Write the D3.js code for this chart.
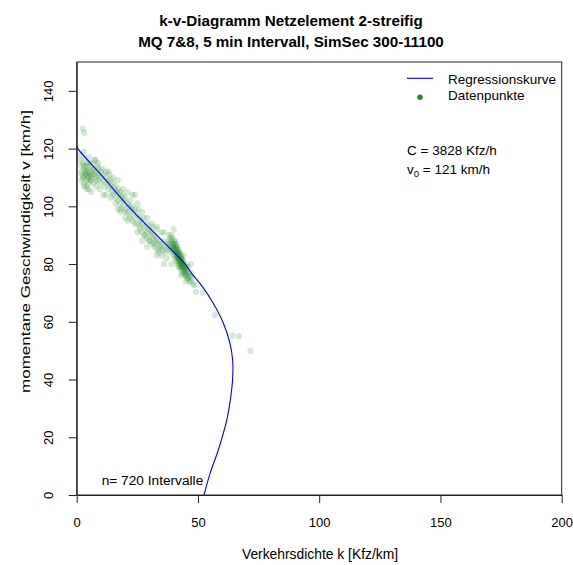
<!DOCTYPE html>
<html><head><meta charset="utf-8">
<script src="https://cdn.jsdelivr.net/npm/d3@7"></script>
<style>
html,body{margin:0;padding:0;background:#fff;}
text{font-family:"Liberation Sans",Arial,sans-serif;fill:#000;}
</style></head>
<body><svg id="c" width="573" height="565"></svg>
<script>
// ---- data ----
const titleLines = ["k-v-Diagramm Netzelement 2-streifig", "MQ 7&8, 5 min Intervall, SimSec 300-11100"];
const xTicks = [0, 50, 100, 150, 200];
const yTicks = [0, 20, 40, 60, 80, 100, 120, 140];
const xLabel = "Verkehrsdichte k [Kfz/km]";
const yLabel = "momentane Geschwindigkeit v [km/h]";
const nText = "n= 720 Intervalle";
const legendLabels = ["Regressionskurve", "Datenpunkte"];
const capacityText = "C = 3828 Kfz/h";
const v0Value = "121 km/h";

// regression curve: density k, speed v
const curveK = [0, 0.5, 11, 21.3, 33, 44.7, 47.4, 52, 56.3, 60.5, 63.2, 64.3, 64.4, 63.9, 61.9, 58.4, 55, 52.5];
const curveV = [121, 120, 110, 100, 90, 80, 76.8, 72, 66.4, 59.5, 52.5, 46.8, 42, 36.4, 26, 15.6, 7.5, 0];

// data points (k, v)
const pointsK = [
 2.5,3,
 1,1.5,2,2,2.5,3,3,3,3.5,4,4,4,4,4.5,5,5,5,5.5,6,6,6,6.5,7,7,7,7.5,8,8,8,8.5,9,9,9,9.5,10,10,10,10.5,11,11,11.5,12,12,12.5,13,13,13.5,14,14,7.6,8.8,3,5,
 2,3,4,5,6,3,4,5,2.5,3.5,4.5,5.5,6.5,7.5,2,3,4,6,8,5,
 14.5,15,15,15.5,16,16,16.5,17,17,17.5,18,18,18.5,19,19,19.5,20,20,20,21,21,21.5,22,22,22.5,23,23,23.5,24,24,25,25,25.5,
 12,14,16,18,20,22,24,26,28,30,32,34,15,17,19,21,23,25,27,29,31,33,35,13,17,21,25,29,33,
 26,26,26.5,27,27,27.5,28,28,28.5,29,29,29.5,30,30,30.5,31,31,31.5,32,32,32.5,33,33,33.5,34,34,34.5,35,35,35.5,36,36,36.5,37,37,37.5,
 38,38,38,38.5,38.5,38.5,39,39,39,39,39.5,39.5,39.5,40,40,40,40,40,40.5,40.5,40.5,40.5,40.5,41,41,41,41,41,41,41.5,41.5,41.5,41.5,41.5,41.5,
 42,42,42,42,42,42,42.5,42.5,42.5,42.5,42.5,42.5,43,43,43,43,43,43,43.5,43.5,43.5,43.5,43.5,44,44,44,44,44,44.5,44.5,44.5,44.5,44.5,
 45,45,45,45,45.5,45.5,45.5,46,46,46,46.5,46.5,47,47,48,
 40,41,42,43,44,41,42,43,42,43,44,45,40.5,41.5,42.5,43.5,
 36,39,48.8,49.2,52,57,64.2,66.9,71.7,46.7,40,33,24,11,18,27,47.5,45,43,36,31,47,44
];
const pointsV = [
 127,125.5,
 118,116,114,112,110,117,113,108,111,115,112,109,106,113,117,111,108,114,112,110,105,115,113,111,108,116,112,110,107,114,111,109,113,106,112,110,108,113,109,111,107,110,112,108,109,106,111,107,109,116,115,119,106,
 111,110,111,112,111,114,114,110,115,112,110,109,113,111,109,107,107,109,109,115,
 105,108,104,106,107,103,105,106,102,104,105,101,103,104,100,102,103,99,96,101,98,100,102,97,99,100,95,98,99,96,97,94,99,
 104,103,101,99,98,96,94,92,90,88,87,85,110,109,106,105,104,101,98,96,94,93,91,112,99,95,91,86,83,
 96,93,95,94,91,96,93,90,92,94,89,91,92,88,90,91,87,89,90,86,88,89,85,87,88,84,86,87,83,85,86,88,84,85,82,87,
 86,88,90,85,87,89,84,86,88,90,85,87,89,83,85,86,87,88,82,84,85,86,88,81,83,84,85,86,87,80,82,83,84,85,86,
 79,81,82,83,84,85,79,80,81,82,83,84,78,79,80,81,82,83,77,79,80,81,82,77,78,79,80,81,76,77,78,79,80,
 76,77,78,79,75,76,78,75,77,79,74,76,74,77,73,
 86,84,82,81,79,85,83,80,84,82,80,78,87,83,81,79,
 80,80,72.7,70.4,70.1,62.3,55.2,55,49.9,75.6,92,92,104,104,98,88,75,74,76,91,93,80,83
];

// ---- chart ----
const svg = d3.select("#c");
const mL = 76.7, mR = 561.7, mT = 62, mB = 495;
const x = d3.scaleLinear().domain([0, 200]).range([mL, mR]);
const y = d3.scaleLinear().domain([0, 150]).range([mB, mT]);

// title
svg.selectAll("text.title").data(titleLines).join("text")
  .attr("class", "title")
  .attr("x", 291)
  .attr("y", (d, i) => 26 + i * 21)
  .attr("text-anchor", "middle")
  .style("font-weight", "bold").style("font-size", "15.2px")
  .text(d => d);

// points
const pts = pointsK.map((k, i) => ({k, v: pointsV[i]}));
svg.append("g").selectAll("circle").data(pts).join("circle")
  .attr("cx", d => x(d.k)).attr("cy", d => y(d.v)).attr("r", 3.1)
  .attr("fill", "#228B22").attr("fill-opacity", 0.19);

// curve
const cpts = curveK.map((k, i) => [k, curveV[i]]);
svg.append("path").datum(cpts)
  .attr("d", d3.line().x(d => x(d[0])).y(d => y(d[1])).curve(d3.curveCatmullRom))
  .attr("fill", "none").attr("stroke", "#0000FF").attr("stroke-width", 1.1);

// box
svg.append("rect").attr("x", mL).attr("y", mT).attr("width", mR - mL).attr("height", mB - mT)
  .attr("fill", "none").attr("stroke", "#222").attr("stroke-width", 1);

// axes
const xa = svg.append("g").attr("transform", `translate(0,${mB})`)
  .call(d3.axisBottom(x).tickValues(xTicks).tickSize(8).tickSizeOuter(0).tickFormat(d3.format("d")));
const ya = svg.append("g").attr("transform", `translate(${mL},0)`)
  .call(d3.axisLeft(y).tickValues(yTicks).tickSize(8).tickSizeOuter(0).tickFormat(d3.format("d")));
[xa, ya].forEach(a => {
  a.select(".domain").attr("stroke", "#222");
  a.selectAll(".tick line").attr("stroke", "#222");
  a.selectAll("text").style("font-size", "13px").attr("font-family", null);
});
xa.selectAll(".tick text").attr("y", 32).attr("dy", null);
ya.selectAll(".tick text").attr("x", 0).attr("dy", null)
  .attr("transform", "translate(-23.5,0) rotate(-90)").attr("text-anchor", "middle");

// axis titles
svg.append("text").attr("x", 320).attr("y", 558.5).attr("text-anchor", "middle")
  .style("font-size", "13.85px").text(xLabel);
svg.append("text").attr("transform", "translate(30,393) rotate(-90)").attr("text-anchor", "start")
  .attr("textLength", 283).attr("lengthAdjust", "spacingAndGlyphs")
  .style("font-size", "13.5px").text(yLabel);

// legend
svg.append("line").attr("x1", 407).attr("x2", 433).attr("y1", 78.3).attr("y2", 78.3)
  .attr("stroke", "#0000FF").attr("stroke-width", 1.1);
svg.append("circle").attr("cx", 420).attr("cy", 97.3).attr("r", 2.7).attr("fill", "#228B22");
svg.selectAll("text.leg").data(legendLabels).join("text").attr("class", "leg")
  .attr("x", 448).attr("y", (d, i) => 84.3 + i * 15.5).style("font-size", "13.5px").text(d => d);

// annotations
svg.append("text").attr("x", 407).attr("y", 155).style("font-size", "13.5px").text(capacityText);
const v0t = svg.append("text").attr("x", 407).attr("y", 173.5).style("font-size", "13.5px");
v0t.append("tspan").text("v");
v0t.append("tspan").attr("dy", 3).style("font-size", "9.5px").text("0");
v0t.append("tspan").attr("dy", -3).text(" = " + v0Value);

svg.append("text").attr("x", 101.7).attr("y", 485).style("font-size", "13.7px").text(nText);
</script></body></html>
